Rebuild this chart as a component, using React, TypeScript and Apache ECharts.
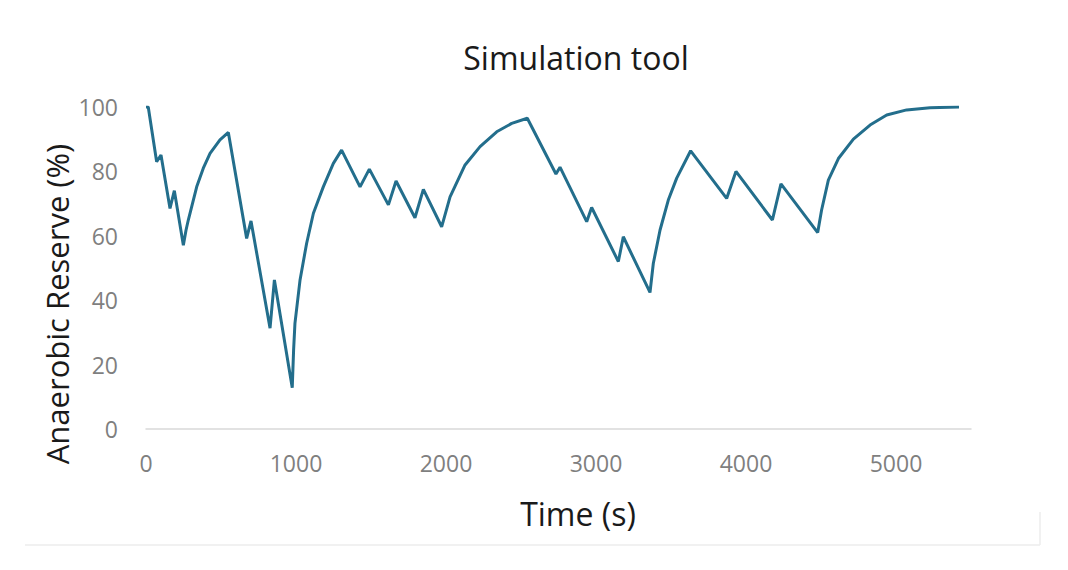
import React, { useEffect, useRef } from "react";
import * as echarts from "echarts";

const timeS = [
  0, 15, 71, 100, 160, 189, 249, 267, 282, 338, 382, 427, 493, 549, 671, 700, 827, 856, 975,
  984, 993, 1027, 1071, 1116, 1149, 1182, 1249, 1304, 1427, 1489, 1616, 1667, 1793, 1849, 1971,
  2027, 2127, 2227, 2338, 2438, 2542, 2733, 2760, 2938, 2971, 3149, 3182, 3360,
  3382, 3427, 3482, 3538, 3631, 3871, 3933, 4176, 4233, 4478,
  4504, 4549, 4616, 4716, 4827, 4938, 5071, 5227, 5420,
];
const reserve = [
  100, 100, 83.0, 85.1, 68.5, 74.0, 57.1, 61.8, 64.9, 75.2, 81.0, 85.6, 89.8, 92.1, 59.2, 64.6, 31.3, 46.3, 12.8,
  24.5, 32.8, 46.3, 57.7, 67.0, 71.1, 75.2, 82.5, 86.6, 75.2, 80.7, 69.6, 77.0, 65.6, 74.4, 62.8,
  72.1, 82.0, 87.7, 92.3, 94.9, 96.5, 79.2, 81.3, 64.4, 68.8, 52.0, 59.7, 42.4,
  51.4, 61.8, 71.1, 77.9, 86.4, 71.6, 80.0, 64.9, 76.1, 61.0,
  68.0, 77.3, 84.0, 90.0, 94.4, 97.5, 99.1, 99.8, 100,
];
const xTicks = [0, 1000, 2000, 3000, 4000, 5000];
const yTicks = [0, 20, 40, 60, 80, 100];

const FONT = "'Open Sans', 'Noto Sans', sans-serif";

export default function App() {
  const ref = useRef<HTMLDivElement>(null);
  useEffect(() => {
    if (!ref.current) return;
    const chart = echarts.init(ref.current, null, { renderer: "svg" });
    const data = timeS.map((t, i) => [t, reserve[i]]);
    chart.setOption({
      animation: false,
      backgroundColor: "#ffffff",
      title: {
        text: "Simulation tool",
        left: 571,
        textAlign: "center",
        top: 36,
        textStyle: { fontFamily: FONT, fontSize: 32, fontWeight: "normal", color: "#1a1a1a" },
      },
      grid: { left: 146, right: 97, top: 107, bottom: 141 },
      xAxis: {
        type: "value",
        min: 0,
        max: 5500,
        interval: 1000,
        axisLine: { show: true, lineStyle: { color: "#d9d9d9", width: 1.5 } },
        axisTick: { show: false },
        splitLine: { show: false },
        axisLabel: {
          margin: 22,
          fontFamily: FONT,
          fontSize: 23,
          color: "#7f7f7f",
          formatter: (v: number) => (xTicks.includes(v) ? String(v) : ""),
        },
      },
      yAxis: {
        type: "value",
        min: 0,
        max: 100,
        interval: 20,
        axisLine: { show: false },
        axisTick: { show: false },
        splitLine: { show: false },
        axisLabel: {
          margin: 28,
          fontFamily: FONT,
          fontSize: 23,
          color: "#7f7f7f",
          formatter: (v: number) => (yTicks.includes(v) ? String(v) : ""),
        },
      },
      series: [
        {
          type: "line",
          data,
          showSymbol: false,
          symbol: "none",
          lineStyle: { color: "#236e8c", width: 3 },
        },
      ],
      graphic: [
        {
          type: "text",
          x: 57,
          y: 304,
          rotation: Math.PI / 2,
          style: {
            text: "Anaerobic Reserve (%)",
            fontFamily: FONT,
            fontSize: 31,
            fill: "#1a1a1a",
            align: "center",
            verticalAlign: "middle",
          },
        },
        {
          type: "text",
          x: 578,
          y: 513,
          style: {
            text: "Time (s)",
            fontFamily: FONT,
            fontSize: 32,
            fill: "#1a1a1a",
            align: "center",
            verticalAlign: "middle",
          },
        },
        {
          type: "line",
          shape: { x1: 25, y1: 545, x2: 1040, y2: 545 },
          style: { stroke: "#ececec", lineWidth: 1.5 },
        },
        {
          type: "line",
          shape: { x1: 1040, y1: 512, x2: 1040, y2: 545 },
          style: { stroke: "#ececec", lineWidth: 1.5 },
        },
      ],
    });
    return () => chart.dispose();
  }, []);
  return <div ref={ref} style={{ width: 1068, height: 570, margin: -8 }} />;
}
